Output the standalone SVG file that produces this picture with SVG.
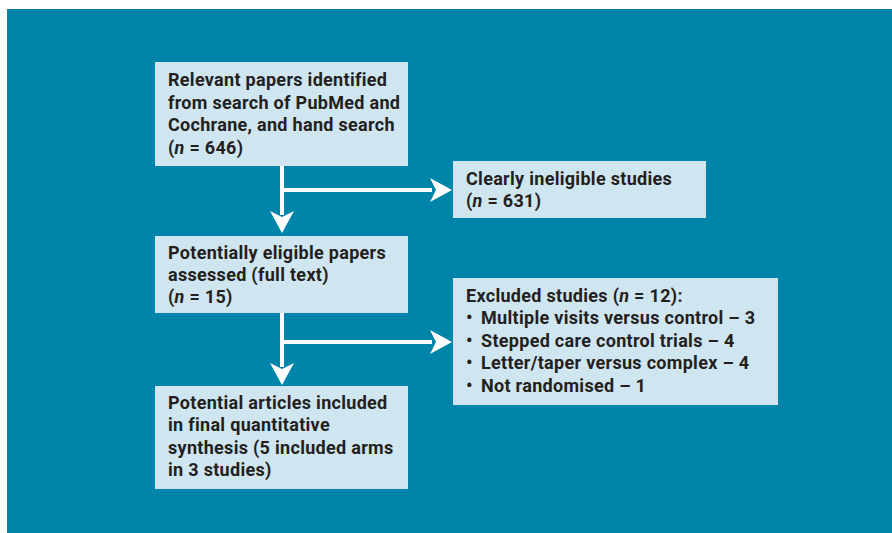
<svg xmlns="http://www.w3.org/2000/svg" width="892" height="533" viewBox="0 0 892 533">
<style>
.box{fill:#cfe5ef}
.t{font-family:Roboto,"Liberation Sans",sans-serif;font-weight:700;font-size:18px;letter-spacing:0.3px;fill:#231f20}
.c{stroke:#fff;stroke-width:4;fill:none}
.ah{fill:#fff}
</style>
<rect x="7" y="9" width="885" height="524" fill="#0084a9"/>
<g id="connectors">
<path class="c" d="M282 166V215M282 190H432"/>
<polygon class="ah" points="270,211 282,233 294,211 282,217"/>
<polygon class="ah" points="430,178 452,190 430,202 436,190"/>
<path class="c" d="M282 313V367M282 342H432"/>
<polygon class="ah" points="270,363 282,385 294,363 282,369"/>
<polygon class="ah" points="430,330 452,342 430,354 436,342"/>
</g>
<g id="n1">
<rect class="box" x="155" y="62" width="253" height="104"/>
<text class="t" x="168" y="86">Relevant papers identified</text>
<text class="t" x="168" y="108.5">from search of PubMed and</text>
<text class="t" x="168" y="131">Cochrane, and hand search</text>
<text class="t" x="168" y="153.5">(<tspan font-style="italic">n</tspan> = 646)</text>
</g>
<g id="n2">
<rect class="box" x="155" y="236" width="253" height="77"/>
<text class="t" x="168" y="259">Potentially eligible papers</text>
<text class="t" x="168" y="281">assessed (full text)</text>
<text class="t" x="168" y="303">(<tspan font-style="italic">n</tspan> = 15)</text>
</g>
<g id="n3">
<rect class="box" x="155" y="386" width="253" height="103"/>
<text class="t" x="168" y="409">Potential articles included</text>
<text class="t" x="168" y="431">in final quantitative</text>
<text class="t" x="168" y="454">synthesis (5 included arms</text>
<text class="t" x="168" y="476">in 3 studies)</text>
</g>
<g id="n4">
<rect class="box" x="453" y="161" width="253" height="57"/>
<text class="t" x="466" y="185">Clearly ineligible studies</text>
<text class="t" x="466" y="207">(<tspan font-style="italic">n</tspan> = 631)</text>
</g>
<g id="n5">
<rect class="box" x="453" y="278" width="325" height="127"/>
<text class="t" x="466" y="302">Excluded studies (<tspan font-style="italic">n</tspan> = 12):</text>
<text class="t" x="466" y="324">•</text><text class="t" x="481" y="324">Multiple visits versus control – 3</text>
<text class="t" x="466" y="347">•</text><text class="t" x="481" y="347">Stepped care control trials – 4</text>
<text class="t" x="466" y="369">•</text><text class="t" x="481" y="369">Letter/taper versus complex – 4</text>
<text class="t" x="466" y="392">•</text><text class="t" x="481" y="392">Not randomised – 1</text>
</g>
</svg>
